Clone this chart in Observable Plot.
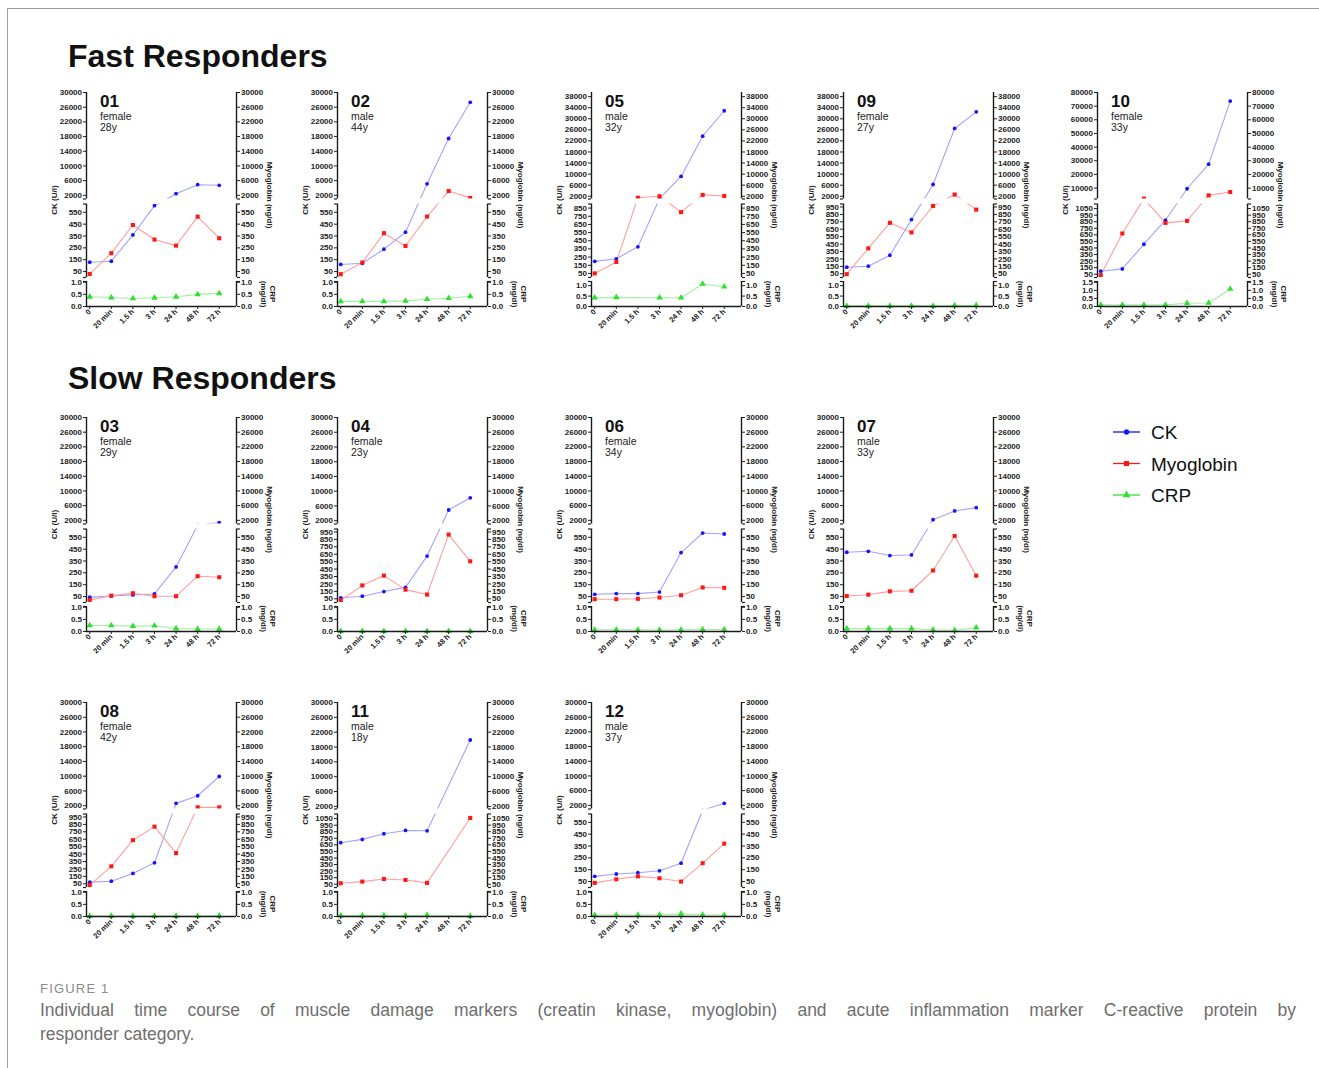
<!DOCTYPE html>
<html><head><meta charset="utf-8">
<script src="https://cdn.jsdelivr.net/npm/d3@7"></script>
<script src="https://cdn.jsdelivr.net/npm/@observablehq/plot@0.6"></script>
<style>
html,body{margin:0;padding:0;background:#fff;}
#root{position:relative;width:1319px;height:1068px;overflow:hidden;font-family:"Liberation Sans",Arial,sans-serif;}
.seg{position:absolute;}
.seg svg{overflow:visible;display:block;}
#frame{position:absolute;left:7px;top:8px;width:1330px;height:1080px;border-top:1px solid #9c9c9c;border-left:1px solid #9c9c9c;}
.figlabel{position:absolute;left:40px;top:981px;font-size:13px;letter-spacing:1.2px;color:#8a8a8a;}
.capline{position:absolute;left:40px;width:1256px;font-size:17.5px;color:#6e6e6e;text-align:justify;text-align-last:justify;white-space:nowrap;}
.capline.last{text-align:left;text-align-last:left;}
</style></head>
<body><div id="root"><div id="frame"></div></div>
<script>
// ---------- data ----------
const timeLabels = ["0", "20 min", "1.5 h", "3 h", "24 h", "48 h", "72 h"];
const groupTitles = ["Fast Responders", "Slow Responders"];
const seriesNames = ["CK", "Myoglobin", "CRP"];
const panelIds = ["01", "02", "05", "09", "10", "03", "04", "06", "07", "08", "11", "12"];
const sexes = ["female", "male", "male", "female", "female", "female", "female", "female", "male", "female", "male", "male"];
const ages = ["28y", "44y", "32y", "27y", "33y", "29y", "23y", "34y", "33y", "42y", "18y", "37y"];

// CK (U/l)
const ck = [
  [129, 137, 359, 606, 2450, 4900, 4730],
  [110, 120, 239, 382, 5130, 17480, 27330],
  [198, 229, 376, 1100, 9150, 23700, 32900],
  [139, 152, 300, 780, 6240, 26500, 32500],
  [96, 131, 507, 873, 9500, 27500, 73700],
  [45, 55, 64, 72, 300, 900, 1400],
  [63, 85, 147, 204, 625, 4900, 8200],
  [69, 75, 75, 88, 421, 586, 578],
  [424, 432, 396, 401, 2180, 4550, 5450],
  [72, 85, 189, 333, 2630, 4700, 9920],
  [683, 733, 819, 869, 864, null, 19900],
  [94, 114, 125, 141, 205, 900, 2540]
];
// Myoglobin (ng/dl)
const myoglobin = [
  [30, 205, 443, 320, 269, 513, 331],
  [28, 126, 374, 266, 514, 3160, 1300],
  [50, 190, 1450, 2000, 800, 2480, 2100],
  [45, 393, 736, 607, 963, 2600, 914],
  [35, 670, 2300, 832, 863, 4650, 7100],
  [22, 58, 78, 53, 53, 222, 213],
  [28, 230, 362, 173, 107, 915, 555],
  [28, 28, 31, 42, 61, 127, 124],
  [55, 66, 94, 99, 270, 561, 226],
  [33, 285, 637, 820, 463, 1550, 1550],
  [65, 90, 130, 115, 70, null, 1060],
  [39, 69, 94, 78, 50, 205, 370]
];
// CRP (mg/dl)
const crp = [
  [0.40, 0.37, 0.33, 0.36, 0.40, 0.50, 0.54],
  [0.21, 0.21, 0.21, 0.23, 0.30, 0.34, 0.42],
  [0.42, 0.44, null, 0.42, 0.42, 1.08, 0.95],
  [0.03, 0.03, 0.03, 0.03, 0.03, 0.05, 0.06],
  [0.10, 0.10, 0.10, 0.10, 0.20, 0.22, 1.09],
  [0.25, 0.25, 0.22, 0.24, 0.12, 0.10, 0.10],
  [0.01, 0.01, 0.01, 0.01, 0.01, 0.01, 0.01],
  [0.07, 0.07, 0.07, 0.06, 0.07, 0.08, 0.08],
  [0.12, 0.12, 0.12, 0.12, 0.07, 0.05, 0.16],
  [0.02, 0.02, 0.02, 0.02, 0.02, 0.02, 0.03],
  [0.04, 0.04, 0.04, 0.03, 0.06, null, 0.02],
  [0.06, 0.06, 0.06, 0.07, 0.11, 0.07, 0.06]
];
// axis segment types per panel
const topAxisType = ["A", "A", "B", "B", "C", "A", "A2", "A", "A", "A2", "A3", "A"];
const midAxisType = ["a", "a", "b", "c", "d", "a", "c", "a", "a", "c", "d", "a"];
const crpAxisType = ["1", "1", "2", "2", "3", "1", "1", "1", "1", "1", "1", "1"];
// tick labels of the broken axes
const ticks30k = [2000, 6000, 10000, 14000, 18000, 22000, 26000, 30000];
const topTicks = {
  A: ticks30k, A2: ticks30k, A3: ticks30k,
  B: [2000, 6000, 10000, 14000, 18000, 22000, 26000, 30000, 34000, 38000],
  C: [10000, 20000, 30000, 40000, 50000, 60000, 70000, 80000]
};
const midTicks = {
  a: [50, 150, 250, 350, 450, 550],
  b: [50, 150, 250, 350, 450, 550, 650, 750, 850],
  c: [50, 150, 250, 350, 450, 550, 650, 750, 850, 950],
  d: [50, 150, 250, 350, 450, 550, 650, 750, 850, 950, 1050]
};
const crpTicks = {"1": [0, 0.5, 1.0], "2": [0, 0.5, 1.0], "3": [0, 0.5, 1.0, 1.5]};
const topDomains = {A: [1000, 30000], A2: [1100, 30000], A3: [1300, 30000], B: [1000, 39500], C: [2000, 80000]};
const midDomains = {a: [0, 620], b: [0, 900], c: [0, 990], d: [0, 1120]};
const crpDomains = {"1": [0, 1.03], "2": [0, 1.2], "3": [0, 1.55]};
const captionLabel = "FIGURE 1";
const captionLine1 = "Individual time course of muscle damage markers (creatin kinase, myoglobin) and acute inflammation marker C-reactive protein by";
const captionLine2 = "responder category.";

// ---------- layout & style ----------
const rowTops = [92, 416.5, 702];
const colLefts = [86, 337, 591, 843, 1097];
const PW = 150;
// heights (px) of the broken-axis pieces, measured from the bottom of the lower piece
const LOW_H = 73.5, GAP_H = 5, UP_H = 106.5;
const CRP_TOP = 189, CRP_H = 25;
const xDomain = [-0.15, 6.8];
const STY = {
  CK: {line: "#a3a3ff", dot: "#1414ff", symbol: "circle", r: 1.9},
  Myoglobin: {line: "#ff9e9e", dot: "#ff1717", symbol: "square", r: 2.3},
  CRP: {line: "#a4efa4", dot: "#2fe02f", symbol: "triangle", r: 2.4}
};
const FONT = "Liberation Sans, Arial, sans-serif";
const root = document.getElementById("root");
const ML = 40, MR = 40, MT = 5;

function toData(arr) {
  return arr.map((v, t) => ({t, v})).filter(d => d.v != null);
}

const axisOpts = (ticks, fmt) => ({ticks, tickFormat: fmt, tickSize: 3, tickPadding: 1.5, fontSize: 8, fontWeight: "bold", label: null, color: "#222"});
const breakOpts = (ticks) => ({ticks, tickFormat: () => "", tickSize: 3, label: null, color: "#222", strokeWidth: 1.2});

// CK + myoglobin on a broken axis: a piecewise mapping of the values into axis units
function markerPlot(i) {
  const tT = topAxisType[i], mT = midAxisType[i];
  const tD = topDomains[tT], mD = midDomains[mT];
  const brk = d3.scaleLinear()
    .domain([mD[0], mD[1], tD[0], tD[1]])
    .range([0, LOW_H, LOW_H + GAP_H, LOW_H + GAP_H + UP_H]);
  const H = LOW_H + GAP_H + UP_H;
  const series = [{data: toData(ck[i]), style: STY.CK}, {data: toData(myoglobin[i]), style: STY.Myoglobin}];
  const yv = d => brk(d.v);
  const marks = [];
  for (const s of series) marks.push(Plot.line(s.data, {x: "t", y: yv, stroke: s.style.line, strokeWidth: 1.1, clip: true}));
  for (const s of series) marks.push(Plot.dot(s.data, {x: "t", y: yv, fill: s.style.dot, stroke: "none", symbol: s.style.symbol, r: s.style.r, clip: true}));
  // the break gap
  marks.push(Plot.rect([0], {x1: xDomain[0] - 0.3, x2: xDomain[1] + 0.3, y1: brk(mD[1]), y2: brk(tD[0]), fill: "white"}));
  const tickVals = [...midTicks[mT], ...topTicks[tT]];
  const fmt = u => d3.format("d")(Math.round(brk.invert(u)));
  const ticks = tickVals.map(v => brk(v));
  marks.push(Plot.axisY({...axisOpts(ticks, fmt), anchor: "left"}), Plot.axisY({...axisOpts(ticks, fmt), anchor: "right"}));
  const br = [mD[0], mD[1], tD[0]].map(v => brk(v));
  marks.push(Plot.axisY({...breakOpts(br), anchor: "left"}), Plot.axisY({...breakOpts(br), anchor: "right"}));
  marks.push(Plot.ruleX(xDomain, {y1: brk(mD[0]), y2: brk(mD[1]), stroke: "#1a1a1a", strokeWidth: 1.4}));
  marks.push(Plot.ruleX(xDomain, {y1: brk(tD[0]), y2: brk(tD[1]), stroke: "#1a1a1a", strokeWidth: 1.4}));
  return Plot.plot({
    width: ML + PW + MR, height: H + MT + 5,
    marginLeft: ML, marginRight: MR, marginTop: MT, marginBottom: 5,
    x: {domain: xDomain, axis: null},
    y: {domain: [0, H], axis: null},
    style: {background: "transparent", overflow: "visible", fontFamily: FONT},
    marks
  });
}

function crpPlot(i) {
  const cT = crpAxisType[i], cD = crpDomains[cT];
  const data = toData(crp[i]);
  const mb = 36;
  const marks = [
    Plot.line(data, {x: "t", y: "v", stroke: STY.CRP.line, strokeWidth: 1.1, clip: true}),
    Plot.dot(data, {x: "t", y: "v", fill: STY.CRP.dot, stroke: "none", symbol: STY.CRP.symbol, r: STY.CRP.r}),
    Plot.axisY({...axisOpts(crpTicks[cT], d3.format(".1f")), anchor: "left"}),
    Plot.axisY({...axisOpts(crpTicks[cT], d3.format(".1f")), anchor: "right"}),
    Plot.axisY({...breakOpts([cD[1]]), anchor: "left"}),
    Plot.axisY({...breakOpts([cD[1]]), anchor: "right"}),
    Plot.ruleX(xDomain, {stroke: "#1a1a1a", strokeWidth: 1.4}),
    Plot.ruleY([cD[0]], {stroke: "#1a1a1a", strokeWidth: 1.4}),
    Plot.axisX({ticks: d3.range(timeLabels.length), tickFormat: t => timeLabels[t], tickRotate: -45,
      tickSize: 3, tickPadding: 1, fontSize: 7.5, fontWeight: "bold", label: null, color: "#222"})
  ];
  return Plot.plot({
    width: ML + PW + MR, height: CRP_H + MT + mb,
    marginLeft: ML, marginRight: MR, marginTop: MT, marginBottom: mb,
    x: {domain: xDomain, axis: null},
    y: {domain: cD, axis: null},
    style: {background: "transparent", overflow: "visible", fontFamily: FONT},
    marks
  });
}

function place(svg, left, top) {
  const d = document.createElement("div");
  d.className = "seg";
  d.style.left = (left - ML) + "px";
  d.style.top = (top - MT) + "px";
  d.appendChild(svg);
  root.appendChild(d);
}

const panelRow = i => i < 5 ? 0 : i < 9 ? 1 : 2;
const panelCol = i => i < 5 ? i : i < 9 ? i - 5 : i - 9;

panelIds.forEach((id, i) => {
  const L = colLefts[panelCol(i)], T = rowTops[panelRow(i)];
  place(markerPlot(i), L, T);
  place(crpPlot(i), L, T + CRP_TOP);
});

// ---------- overlay text ----------
const ov = d3.select(root).append("svg")
  .attr("width", 1319).attr("height", 1068)
  .style("position", "absolute").style("left", 0).style("top", 0)
  .style("pointer-events", "none").style("font-family", FONT);

ov.append("text").attr("x", 68).attr("y", 67).attr("font-size", 32).attr("font-weight", "bold").attr("fill", "#111").text(groupTitles[0]);
ov.append("text").attr("x", 68).attr("y", 389).attr("font-size", 32).attr("font-weight", "bold").attr("fill", "#111").text(groupTitles[1]);

panelIds.forEach((id, i) => {
  const L = colLefts[panelCol(i)], T = rowTops[panelRow(i)];
  ov.append("text").attr("x", L + 14).attr("y", T + 15).attr("font-size", 17).attr("font-weight", "bold").attr("fill", "#111").text(id);
  ov.append("text").attr("x", L + 14).attr("y", T + 28).attr("font-size", 10.5).attr("fill", "#222").text(sexes[i]);
  ov.append("text").attr("x", L + 14).attr("y", T + 39).attr("font-size", 10.5).attr("fill", "#222").text(ages[i]);
  ov.append("text").attr("transform", `translate(${L - 32},${T + 108}) rotate(-90)`).attr("text-anchor", "middle")
    .attr("dy", "0.35em").attr("font-size", 8).attr("font-weight", "bold").attr("fill", "#222").text("CK (U/l)");
  ov.append("text").attr("transform", `translate(${L + PW + 34},${T + 103}) rotate(90)`).attr("text-anchor", "middle")
    .attr("dy", "0.35em").attr("font-size", 8).attr("font-weight", "bold").attr("fill", "#222").text("Myoglobin (ng/dl)");
  ov.append("text").attr("transform", `translate(${L + PW + 37},${T + 202}) rotate(90)`).attr("text-anchor", "middle")
    .attr("dy", "0.35em").attr("font-size", 8).attr("font-weight", "bold").attr("fill", "#222").text("CRP");
  ov.append("text").attr("transform", `translate(${L + PW + 28},${T + 202}) rotate(90)`).attr("text-anchor", "middle")
    .attr("dy", "0.35em").attr("font-size", 8).attr("font-weight", "bold").attr("fill", "#222").text("(mg/dl)");
});

// legend
seriesNames.forEach((name, k) => {
  const y = 432 + k * 31.5, s = STY[name];
  ov.append("line").attr("x1", 1113).attr("x2", 1140).attr("y1", y).attr("y2", y).attr("stroke", s.dot).attr("stroke-width", 1.3);
  const sym = d3.symbol().type(s.symbol === "circle" ? d3.symbolCircle : s.symbol === "square" ? d3.symbolSquare : d3.symbolTriangle).size(s.symbol === "circle" ? 22 : 26);
  ov.append("path").attr("d", sym()).attr("transform", `translate(1126.5,${y})`).attr("fill", s.dot);
  ov.append("text").attr("x", 1151).attr("y", y + 7).attr("font-size", 19).attr("fill", "#111").text(name);
});

// caption
const fl = document.createElement("div"); fl.className = "figlabel"; fl.textContent = captionLabel; root.appendChild(fl);
const c1 = document.createElement("div"); c1.className = "capline"; c1.style.top = "1000px"; c1.textContent = captionLine1; root.appendChild(c1);
const c2 = document.createElement("div"); c2.className = "capline last"; c2.style.top = "1024px"; c2.textContent = captionLine2; root.appendChild(c2);
</script>
</body></html>
